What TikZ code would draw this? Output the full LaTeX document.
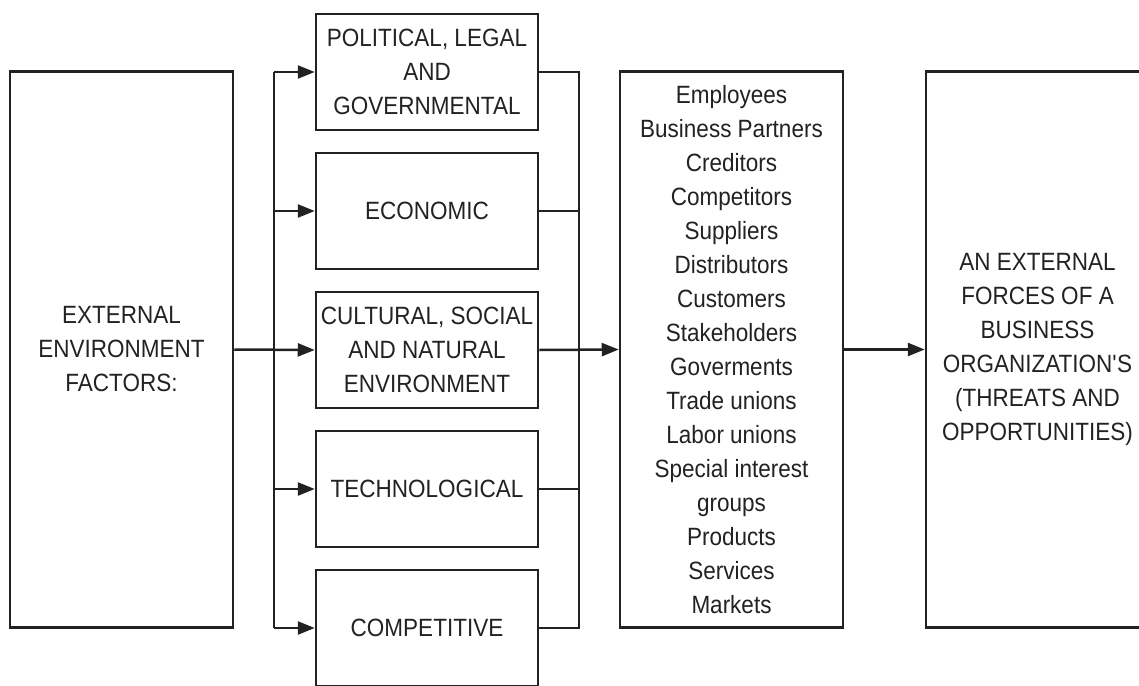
\documentclass[tikz,border=0pt]{standalone}
\usepackage{fontspec}
\setmainfont[FakeStretch=0.9]{Liberation Sans}
\usetikzlibrary{arrows.meta}
\definecolor{ink}{HTML}{222222}
\tikzset{
  box/.style={draw=ink, line width=2.5pt, text=ink, align=center,
    inner sep=0pt, font=\fontsize{25}{34}\selectfont},
  factor/.style={box, minimum width=222pt, minimum height=116pt},
  tall/.style={box, minimum width=223pt, minimum height=556pt},
  arr/.style={-{Triangle[length=17pt,width=13pt]}},
}
\begin{document}
\begin{tikzpicture}[x=1pt,y=-1pt, line width=2.5pt, draw=ink, ink]
    \useasboundingbox (0,0) rectangle (1139,685);
    \node[tall] (ext) at (121.5,349.5) {EXTERNAL\\ENVIRONMENT\\FACTORS:};
    \node[factor] (pol) at (427,72) {POLITICAL, LEGAL\\AND\\GOVERNMENTAL};
    \node[factor] (eco) at (427,211) {ECONOMIC};
    \node[factor] (cul) at (427,350) {CULTURAL, SOCIAL\\AND NATURAL\\ENVIRONMENT};
    \node[factor] (tec) at (427,489) {TECHNOLOGICAL};
    \node[factor] (com) at (427,628) {COMPETITIVE};
    \node[tall] (list) at (731.5,349.5) {Employees\\Business Partners\\Creditors\\Competitors\\Suppliers\\Distributors\\Customers\\Stakeholders\\Goverments\\Trade unions\\Labor unions\\Special interest\\groups\\Products\\Services\\Markets};
    \node[tall] (res) at (1037.5,349.5) {AN EXTERNAL\\FORCES OF A\\BUSINESS\\ORGANIZATION\textquotesingle S\\(THREATS AND\\OPPORTUNITIES)};
    \coordinate (bl) at (274,350);
    \coordinate (br) at (579,350);
    % left bus
    \draw (bl |- pol.west) -- (bl |- com.west);
    \draw [arr] (ext.east) -- (cul.west);
    \draw [arr] (bl |- pol.west) -- (pol.west);
    \draw [arr] (bl |- eco.west) -- (eco.west);
    \draw [arr] (bl |- tec.west) -- (tec.west);
    \draw [arr] (bl |- com.west) -- (com.west);
    % right bus
    \draw (pol.east) -- (br |- pol.east) -- (br |- com.east) -- (com.east);
    \draw (eco.east) -- (br |- eco.east);
    \draw (tec.east) -- (br |- tec.east);
    \draw [arr] (cul.east) -- (list.west);
    \draw [arr] (list.east) -- (res.west);
  \end{tikzpicture}
\end{document}
